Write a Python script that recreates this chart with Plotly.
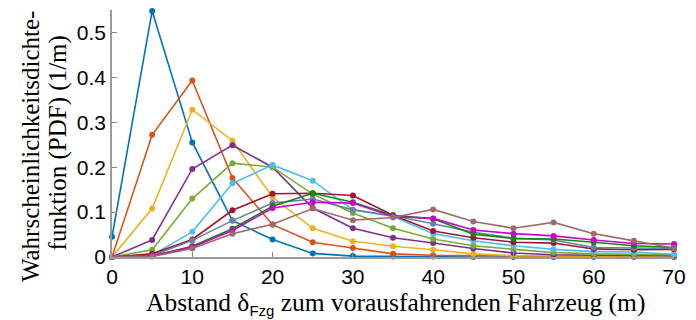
import plotly.graph_objects as go

# Abstand zum vorausfahrenden Fahrzeug (m)
abstand = [0, 5, 10, 15, 20, 25, 30, 35, 40, 45, 50, 55, 60, 65, 70]

# PDF-Verläufe (1/m)
pdf_1 = [0.045, 0.548, 0.255, 0.081, 0.039, 0.008, 0.002, 0.001, 0.001, 0.0, 0.0, 0.0, 0.0, 0.0, 0.0]
pdf_2 = [0.0, 0.272, 0.393, 0.176, 0.072, 0.033, 0.020, 0.007, 0.004, 0.003, 0.002, 0.002, 0.002, 0.001, 0.001]
pdf_3 = [0.0, 0.108, 0.328, 0.259, 0.133, 0.064, 0.035, 0.024, 0.016, 0.007, 0.003, 0.003, 0.003, 0.002, 0.002]
pdf_4 = [0.0, 0.038, 0.196, 0.249, 0.200, 0.109, 0.064, 0.043, 0.031, 0.019, 0.009, 0.005, 0.004, 0.003, 0.003]
pdf_5 = [0.0, 0.016, 0.130, 0.209, 0.200, 0.140, 0.098, 0.064, 0.040, 0.025, 0.017, 0.010, 0.007, 0.006, 0.005]
pdf_6 = [0.0, 0.004, 0.056, 0.164, 0.205, 0.170, 0.105, 0.090, 0.052, 0.036, 0.025, 0.017, 0.012, 0.011, 0.006]
pdf_7 = [0.0, 0.007, 0.039, 0.104, 0.141, 0.142, 0.137, 0.093, 0.058, 0.043, 0.033, 0.031, 0.018, 0.016, 0.017]
pdf_8 = [0.0, 0.003, 0.037, 0.081, 0.120, 0.129, 0.105, 0.092, 0.074, 0.055, 0.042, 0.038, 0.021, 0.020, 0.019]
pdf_9 = [0.0, 0.002, 0.024, 0.063, 0.113, 0.142, 0.122, 0.093, 0.085, 0.051, 0.041, 0.040, 0.033, 0.025, 0.021]
pdf_10 = [0.0, 0.002, 0.022, 0.059, 0.109, 0.122, 0.120, 0.090, 0.086, 0.060, 0.052, 0.047, 0.038, 0.030, 0.029]
pdf_11 = [0.0, 0.001, 0.019, 0.052, 0.073, 0.108, 0.082, 0.088, 0.106, 0.079, 0.064, 0.077, 0.052, 0.036, 0.020]

series = [pdf_1, pdf_2, pdf_3, pdf_4, pdf_5, pdf_6, pdf_7, pdf_8, pdf_9, pdf_10, pdf_11]
colors = ["#0072BD", "#D95319", "#EDB120", "#7E2F8E", "#77AC30", "#4DBEEE",
          "#A2142F", "#6a80a4", "#0b8a12", "#cc00cc", "#9e6b6b"]

x_ticks = [0, 10, 20, 30, 40, 50, 60, 70]
x_ticktext = ["0", "10", "20", "30", "40", "50", "60", "70"]
y_ticks = [0, 0.1, 0.2, 0.3, 0.4, 0.5]
y_ticktext = ["0", "0.1", "0.2", "0.3", "0.4", "0.5"]

fig = go.Figure()
for vals, col in zip(series, colors):
    fig.add_trace(go.Scatter(
        x=abstand, y=vals, mode="lines+markers",
        line=dict(color=col, width=1.6),
        marker=dict(color=col, size=6),
        cliponaxis=False, showlegend=False,
    ))

axis_common = dict(
    showgrid=False, zeroline=False, showline=True,
    linecolor="#9a9a9a", linewidth=1.5,
    ticks="inside", ticklen=5, tickwidth=1, tickcolor="#8a8a8a",
    tickfont=dict(family="Liberation Sans, Arial, sans-serif", size=21, color="black"),
)

fig.update_layout(
    width=696, height=320,
    margin=dict(l=112, r=14, t=10, b=63),
    paper_bgcolor="white", plot_bgcolor="white",
    xaxis=dict(range=[0, 70], tickvals=x_ticks, ticktext=x_ticktext, **axis_common),
    yaxis=dict(range=[0, 0.55], tickvals=y_ticks, ticktext=y_ticktext, **axis_common),
)

serif = "Liberation Serif, Times New Roman, serif"

# x-axis title with small sans-serif subscript
fig.add_annotation(
    text="Abstand δ<sub><span style='font-family:Liberation Sans;font-size:15px'>Fzg</span></sub>"
         " zum vorausfahrenden Fahrzeug (m)",
    xref="paper", yref="paper", x=0.505, y=-0.19,
    xanchor="center", yanchor="middle", showarrow=False,
    font=dict(family=serif, size=25.5, color="black"),
)

# two-line y-axis title
fig.add_annotation(
    text="Wahrscheinlichkeitsdichte-",
    xref="paper", yref="paper", x=-0.145, y=0.447,
    xanchor="center", yanchor="middle", showarrow=False, textangle=-90,
    font=dict(family=serif, size=25, color="black"),
)
fig.add_annotation(
    text="funktion (PDF) (1/m)",
    xref="paper", yref="paper", x=-0.096, y=0.46,
    xanchor="center", yanchor="middle", showarrow=False, textangle=-90,
    font=dict(family=serif, size=25, color="black"),
)

fig.write_html("out.html")
